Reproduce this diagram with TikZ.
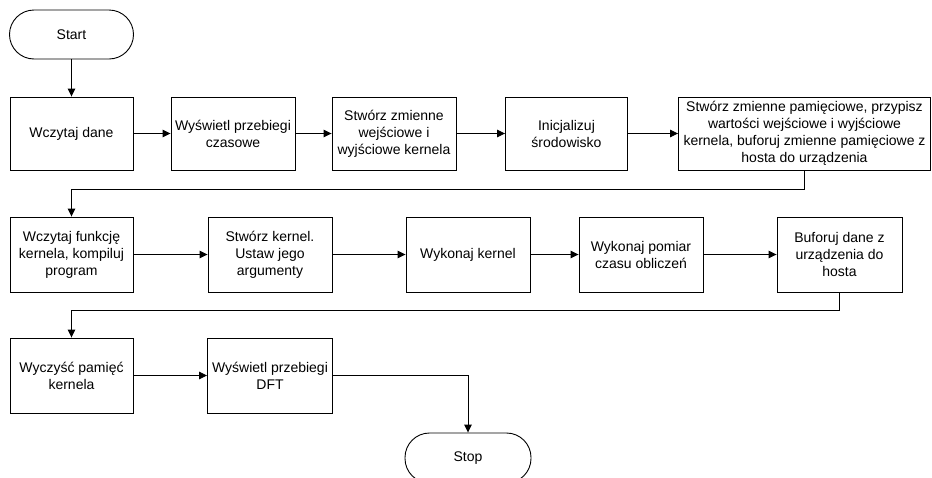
\documentclass[tikz,border=0pt]{standalone}
\usepackage{fontspec}
\setmainfont{Liberation Sans}
\usetikzlibrary{arrows.meta}
\begin{document}
\begin{tikzpicture}[x=1pt,y=-1pt,
  every node/.style={font=\fontsize{14}{17}\selectfont, align=center, inner sep=1pt},
  proc/.style={draw, line width=0.9pt, minimum height=73pt},
  term/.style={draw, line width=0.9pt, rounded corners=24.5pt, minimum width=124pt, minimum height=49pt},
  arr/.style={line width=0.9pt, -{Triangle[length=8pt,width=7.5pt]}}]
\clip (0,0) rectangle (932,477);
\fill[white] (0,0) rectangle (932,477);
% terminals
\node[term] (start) at (71.5,34.5) {Start};
\node[term, minimum height=50pt, minimum width=126pt] (stop) at (468,458) {Stop};
% row 1
\node[proc, minimum width=123pt] (b1) at (71.5,133.5) {Wczytaj dane};
\node[proc, minimum width=124pt] (b2) at (233,133.5) {Wyświetl przebiegi\\czasowe};
\node[proc, minimum width=124pt] (b3) at (394,133.5) {Stwórz zmienne\\wejściowe i\\wyjściowe kernela};
\node[proc, minimum width=122pt] (b4) at (566.5,133.5) {Inicjalizuj\\środowisko};
\node[proc, minimum width=252pt] (b5) at (804.5,133.5) {Stwórz zmienne pamięciowe, przypisz\\wartości wejściowe i wyjściowe\\kernela, buforuj zmienne pamięciowe z\\hosta do urządzenia};
% row 2
\node[proc, minimum width=123pt, minimum height=75pt] (b6) at (71.5,254.5) {Wczytaj funkcję\\kernela, kompiluj\\program};
\node[proc, minimum width=124pt, minimum height=75pt] (b7) at (270,254.5) {Stwórz kernel.\\Ustaw jego\\argumenty};
\node[proc, minimum width=124pt, minimum height=75pt] (b8) at (468,254.5) {Wykonaj kernel};
\node[proc, minimum width=124pt, minimum height=75pt] (b9) at (641,254.5) {Wykonaj pomiar\\czasu obliczeń};
\node[proc, minimum width=125pt, minimum height=75pt] (b10) at (839.5,254.5) {Buforuj dane z\\urządzenia do\\hosta};
% row 3
\node[proc, minimum width=123pt, minimum height=75pt] (b11) at (71.5,375.5) {Wyczyść pamięć\\kernela};
\node[proc, minimum width=125pt, minimum height=75pt] (b12) at (270,375.5) {Wyświetl przebiegi\\DFT};
% connectors
\draw[arr] (start) -- (b1);
\draw[arr] (b1) -- (b2);
\draw[arr] (b2) -- (b3);
\draw[arr] (b3) -- (b4);
\draw[arr] (b4) -- (b5);
\draw[arr] (b5.south) -- ++(0,19) -| (b6.north);
\draw[arr] (b6) -- (b7);
\draw[arr] (b7) -- (b8);
\draw[arr] (b8) -- (b9);
\draw[arr] (b9) -- (b10);
\draw[arr] (b10.south) -- ++(0,18) -| (b11.north);
\draw[arr] (b11) -- (b12);
\draw[arr] (b12.east) -| (stop.north);
\end{tikzpicture}
\end{document}
